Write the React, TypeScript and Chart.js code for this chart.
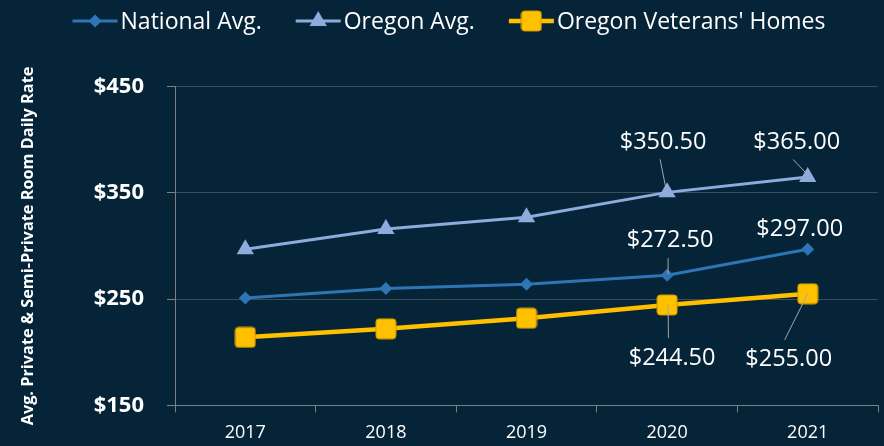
import React, { useEffect, useRef } from 'react';
import { Chart, registerables } from 'chart.js';

Chart.register(...registerables);

// ---- data ----
const years = ['2017', '2018', '2019', '2020', '2021'];
const nationalAvg = [251, 260, 264, 272.5, 297];
const oregonAvg = [297, 316, 327, 350.5, 365];
const veteransHomes = [214, 222, 232, 244.5, 255];
const yTicks = [150, 250, 350, 450];
const seriesNames = ['National Avg.', 'Oregon Avg.', "Oregon Veterans' Homes"];
const labeledIndices = [3, 4];
const yTitle = 'Avg. Private & Semi-Private Room Daily Rate';

// ---- style ----
const BG = '#062438';
const FONT = "'Open Sans', sans-serif";
const COLORS = ['#2e75b6', '#8faadc', '#ffc000'];
const AXIS = '#808080';
const GRID = '#3e4b58';
const LEADER = '#a6a6a6';

// label offsets relative to the data point (text centre + leader line)
const labelLayout: Record<number, { dx: number; dy: number; lead: number[] | null }>[] = [
  { 3: { dx: 3, dy: -35, lead: [1, -17, 1, -1] }, 4: { dx: -8, dy: -20, lead: null } },
  { 3: { dx: -4, dy: -50, lead: [-7, -33, -1, -3] }, 4: { dx: -11, dy: -35, lead: [-14.5, -17.5, 0, -2] } },
  { 3: { dx: 5, dy: 53, lead: [1, 0, 1.3, 33] }, 4: { dx: -19, dy: 66, lead: [0, 0, -23, 46] } },
];

function makeSquare(size: number): HTMLCanvasElement {
  const c = document.createElement('canvas');
  c.width = size + 2;
  c.height = size + 2;
  const g = c.getContext('2d')!;
  g.fillStyle = COLORS[2];
  g.strokeStyle = '#c99700';
  g.lineWidth = 1;
  g.beginPath();
  (g as any).roundRect(1, 1, size, size, 3);
  g.fill();
  g.stroke();
  return c;
}

function drawMarker(ctx: CanvasRenderingContext2D, kind: number, x: number, y: number, sq: HTMLCanvasElement) {
  ctx.save();
  ctx.fillStyle = COLORS[kind];
  if (kind === 0) {
    const r = 6.5;
    ctx.beginPath();
    ctx.moveTo(x, y - r);
    ctx.lineTo(x + r, y);
    ctx.lineTo(x, y + r);
    ctx.lineTo(x - r, y);
    ctx.closePath();
    ctx.fill();
  } else if (kind === 1) {
    const r = 10;
    ctx.beginPath();
    ctx.moveTo(x, y - r);
    ctx.lineTo(x + r * Math.sin((2 * Math.PI) / 3), y + r / 2);
    ctx.lineTo(x - r * Math.sin((2 * Math.PI) / 3), y + r / 2);
    ctx.closePath();
    ctx.fill();
  } else {
    ctx.drawImage(sq, x - sq.width / 2, y - sq.height / 2);
  }
  ctx.restore();
}

export default function App() {
  const ref = useRef<HTMLCanvasElement>(null);

  useEffect(() => {
    document.body.style.margin = '0';
    const square = makeSquare(20);
    const legendSquare = makeSquare(20);

    const legendPlugin = {
      id: 'customLegend',
      afterDraw(chart: any) {
        const ctx: CanvasRenderingContext2D = chart.ctx;
        ctx.save();
        ctx.font = `23px ${FONT}`;
        ctx.textBaseline = 'middle';
        ctx.textAlign = 'left';
        const lineLen = 45;
        const gapText = 3;
        const gapItem = 34;
        const widths = seriesNames.map((n) => lineLen + gapText + ctx.measureText(n).width);
        const total = widths.reduce((a, b) => a + b, 0) + gapItem * (seriesNames.length - 1);
        let x = 449 - total / 2;
        const y = 21;
        seriesNames.forEach((name, i) => {
          ctx.strokeStyle = COLORS[i];
          ctx.lineWidth = i === 2 ? 4.5 : 3;
          ctx.beginPath();
          ctx.moveTo(x, y);
          ctx.lineTo(x + lineLen, y);
          ctx.stroke();
          drawMarker(ctx, i, x + lineLen / 2, y, legendSquare);
          ctx.fillStyle = '#ffffff';
          ctx.fillText(name, x + lineLen + gapText, y + 1);
          x += widths[i] + gapItem;
        });
        ctx.restore();
      },
    };

    const labelPlugin = {
      id: 'valueLabels',
      afterDatasetsDraw(chart: any) {
        const ctx: CanvasRenderingContext2D = chart.ctx;
        ctx.save();
        ctx.font = `23.5px ${FONT}`;
        ctx.textAlign = 'center';
        ctx.textBaseline = 'middle';
        chart.data.datasets.forEach((ds: any, di: number) => {
          const meta = chart.getDatasetMeta(di);
          labeledIndices.forEach((i) => {
            const el = meta.data[i];
            const c = labelLayout[di][i];
            if (c.lead) {
              ctx.strokeStyle = LEADER;
              ctx.lineWidth = 1;
              ctx.beginPath();
              ctx.moveTo(el.x + c.lead[0], el.y + c.lead[1]);
              ctx.lineTo(el.x + c.lead[2], el.y + c.lead[3]);
              ctx.stroke();
            }
            ctx.fillStyle = '#ffffff';
            ctx.fillText('$' + Number(ds.data[i]).toFixed(2), el.x + c.dx, el.y + c.dy);
          });
        });
        ctx.restore();
      },
    };

    const chart = new Chart(ref.current!, {
      type: 'line',
      data: {
        labels: years,
        datasets: [
          {
            label: seriesNames[0],
            data: nationalAvg,
            borderColor: COLORS[0],
            backgroundColor: COLORS[0],
            borderWidth: 3,
            pointStyle: 'rectRot',
            pointRadius: 6.5,
            pointBorderWidth: 0,
          },
          {
            label: seriesNames[1],
            data: oregonAvg,
            borderColor: COLORS[1],
            backgroundColor: COLORS[1],
            borderWidth: 3,
            pointStyle: 'triangle',
            pointRadius: 10,
            pointBorderWidth: 0,
          },
          {
            label: seriesNames[2],
            data: veteransHomes,
            borderColor: COLORS[2],
            backgroundColor: COLORS[2],
            borderWidth: 4.5,
            pointStyle: square as any,
            pointRadius: 10,
          },
        ],
      },
      options: {
        animation: false,
        responsive: true,
        maintainAspectRatio: false,
        layout: { autoPadding: false, padding: { top: 86.7, right: 6, left: 0, bottom: 0 } },
        plugins: {
          legend: { display: false },
          tooltip: { enabled: false },
        },
        scales: {
          x: {
            offset: true,
            afterFit: (s: any) => {
              s.height = 40.7;
              s.paddingLeft = 0;
              s.paddingRight = 0;
            },
            grid: {
              offset: true,
              drawOnChartArea: false,
              tickLength: 7,
              tickColor: AXIS,
            },
            border: { color: AXIS, width: 1 },
            ticks: { color: '#ffffff', font: { family: FONT, size: 18 }, padding: 10 },
          },
          y: {
            min: 150,
            max: 450,
            afterBuildTicks: (s: any) => {
              s.ticks = yTicks.map((v) => ({ value: v }));
            },
            afterFit: (s: any) => {
              s.width = 175;
            },
            grid: { color: GRID, lineWidth: 1, tickLength: 8, tickColor: AXIS },
            border: { color: AXIS, width: 1 },
            ticks: {
              color: '#ffffff',
              font: { family: FONT, size: 22, weight: 'bold' },
              padding: 23,
              callback: (v: any) => '$' + v,
            },
            title: {
              display: true,
              text: yTitle,
              color: '#ffffff',
              font: { family: FONT, size: 16.3, weight: 'bold' },
              padding: { top: 19, bottom: 0 },
            },
          },
        },
      },
      plugins: [labelPlugin, legendPlugin],
    });
    return () => chart.destroy();
  }, []);

  return (
    <div style={{ position: 'absolute', left: 0, top: 0, width: 884, height: 446, background: BG }}>
      <canvas ref={ref} />
    </div>
  );
}
